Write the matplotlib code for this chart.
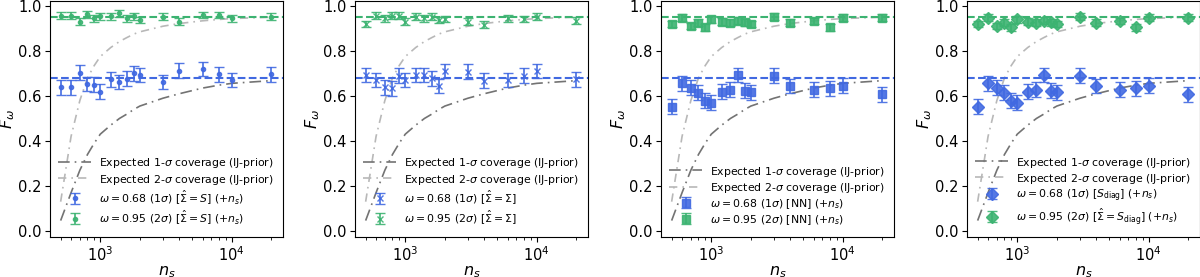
import matplotlib.pyplot as plt
import numpy as np

ns = [500, 600, 700, 800, 900, 1000, 1200, 1400, 1600, 1800, 2000, 3000, 4000, 6000, 8000, 10000, 20000]

# expected coverage curves
expected_1sig = [0.046, 0.17, 0.27, 0.34, 0.39, 0.43, 0.47, 0.50, 0.52, 0.54, 0.555, 0.59, 0.61, 0.635, 0.648, 0.656, 0.668]
expected_2sig = [0.13, 0.42, 0.58, 0.68, 0.735, 0.775, 0.815, 0.842, 0.86, 0.875, 0.885, 0.91, 0.922, 0.934, 0.94, 0.944, 0.95]

# panel 1: Sigma_hat = S
p1_68 = [0.639, 0.639, 0.704, 0.653, 0.649, 0.618, 0.674, 0.662, 0.677, 0.701, 0.693, 0.662, 0.713, 0.720, 0.696, 0.671, 0.696]
p1_95 = [0.957, 0.957, 0.930, 0.963, 0.945, 0.954, 0.954, 0.967, 0.945, 0.954, 0.938, 0.953, 0.930, 0.960, 0.960, 0.945, 0.953]

# panel 2: Sigma_hat = Sigma
p2_68 = [0.693, 0.671, 0.639, 0.634, 0.689, 0.671, 0.693, 0.693, 0.679, 0.644, 0.711, 0.708, 0.668, 0.671, 0.689, 0.711, 0.674]
p2_95 = [0.920, 0.957, 0.945, 0.957, 0.957, 0.930, 0.953, 0.945, 0.953, 0.938, 0.942, 0.930, 0.916, 0.945, 0.942, 0.953, 0.935]

# panel 3 (NN) and panel 4 (S_diag) show the same points
p3_68 = [0.553, 0.656, 0.637, 0.615, 0.578, 0.570, 0.619, 0.627, 0.693, 0.624, 0.616, 0.690, 0.644, 0.627, 0.634, 0.646, 0.607]
p3_95 = [0.920, 0.948, 0.911, 0.926, 0.905, 0.941, 0.930, 0.926, 0.935, 0.927, 0.920, 0.953, 0.926, 0.933, 0.905, 0.948, 0.948]

err_68 = [0.033] * len(ns)
err_95 = [0.015] * len(ns)

labels = [
    (r'$\omega = 0.68\ (1\sigma)\ [\hat{\Sigma} = S]\ (+n_s)$',
     r'$\omega = 0.95\ (2\sigma)\ [\hat{\Sigma} = S]\ (+n_s)$'),
    (r'$\omega = 0.68\ (1\sigma)\ [\hat{\Sigma} = \Sigma]$',
     r'$\omega = 0.95\ (2\sigma)\ [\hat{\Sigma} = \Sigma]$'),
    (r'$\omega = 0.68\ (1\sigma)$ [NN] $(+n_s)$',
     r'$\omega = 0.95\ (2\sigma)$ [NN] $(+n_s)$'),
    (r'$\omega = 0.68\ (1\sigma)\ [S_{\rm diag}]\ (+n_s)$',
     r'$\omega = 0.95\ (2\sigma)\ [\hat{\Sigma} = S_{\rm diag}]\ (+n_s)$'),
]
data = [(p1_68, p1_95), (p2_68, p2_95), (p3_68, p3_95), (p3_68, p3_95)]
markers = [('o', 3), ('x', 4), ('s', 6), ('D', 6)]

blue = 'royalblue'
green = 'mediumseagreen'

fig = plt.figure(figsize=(12, 2.77), dpi=100)
lefts = [50, 355, 661, 967]

for i in range(4):
    ax = fig.add_axes([lefts[i] / 1200, 40 / 277, 233 / 1200, 236 / 277])
    ax.set_xscale('log')

    ax.plot(ns, expected_1sig, color='0.45', ls=(0, (7, 3, 1, 3)), lw=1.2,
            label=r'Expected 1-$\sigma$ coverage (IJ-prior)')
    ax.plot(ns, expected_2sig, color='0.72', ls=(0, (5, 3, 1, 3)), lw=1.2,
            label=r'Expected 2-$\sigma$ coverage (IJ-prior)')

    ax.axhline(0.68, color=blue, ls='--', lw=1.5)
    ax.axhline(0.95, color=green, ls='--', lw=1.5)

    m, ms = markers[i]
    y68, y95 = data[i]
    ax.errorbar(ns, y68, yerr=err_68, fmt=m, ms=ms, color=blue, ecolor=blue,
                capsize=3.5, elinewidth=1.3, alpha=0.9, label=labels[i][0])
    ax.errorbar(ns, y95, yerr=err_95, fmt=m, ms=ms, color=green, ecolor=green,
                capsize=3.5, elinewidth=1.3, alpha=0.9, label=labels[i][1])

    ax.set_xlim(415, 24500)
    ax.set_ylim(-0.027, 1.022)
    ax.set_yticks([0.0, 0.2, 0.4, 0.6, 0.8, 1.0])
    ax.tick_params(labelsize=10.5, pad=2.5)
    ax.set_xlabel(r'$n_s$', fontsize=11.5, labelpad=0)
    ax.set_ylabel(r'$F_\omega$', fontsize=11.5, labelpad=1)
    ax.legend(loc='lower right', fontsize=7.8, frameon=False,
              handlelength=3.0, handletextpad=0.7, handleheight=1.25,
              labelspacing=0.2)

fig.savefig('out.png')
